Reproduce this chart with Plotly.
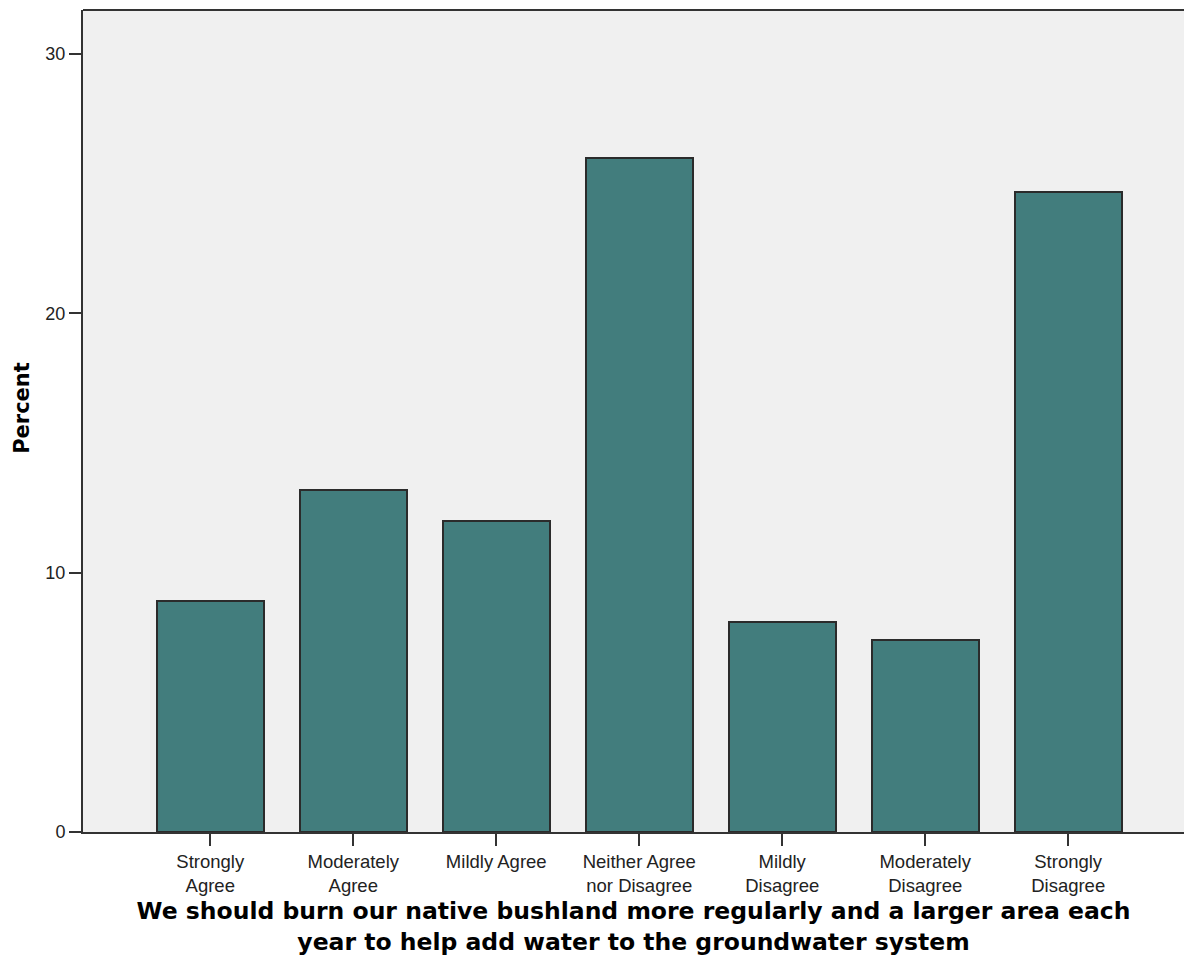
import plotly.graph_objects as go

categories = ["Strongly<br>Agree", "Moderately<br>Agree", "Mildly Agree", "Neither Agree<br>nor Disagree",
              "Mildly<br>Disagree", "Moderately<br>Disagree", "Strongly<br>Disagree"]
percent = [8.9, 13.2, 12.0, 26.0, 8.1, 7.4, 24.7]
y_ticks = [0, 10, 20, 30]

fig = go.Figure()
fig.add_trace(go.Bar(
    x=categories, y=percent, width=0.75,
    marker=dict(color="#427d7d", line=dict(color="#2b2b2b", width=2)),
))

fig.update_layout(
    width=1176, height=948,
    margin=dict(l=75, r=0, t=2, b=124),
    paper_bgcolor="white", plot_bgcolor="#f0f0f0",
    showlegend=False,
    font=dict(family="Liberation Sans, Arial", color="#111"),
    bargap=0,
)
fig.update_xaxes(
    type="category", range=[-0.89, 6.81],
    showline=True, linecolor="#333", linewidth=2,
    ticks="outside", ticklen=12, tickwidth=1.5, tickcolor="#333",
    showgrid=False, zeroline=False,
    tickfont=dict(size=18.5, family="Liberation Sans, Arial", color="#222"),
    title=dict(text="We should burn our native bushland more regularly and a larger area each<br>year to help add water to the groundwater system",
               font=dict(size=23.5, family="DejaVu Sans", color="black", weight="bold"), standoff=12),
)
fig.update_yaxes(
    range=[0, 31.7], tickvals=y_ticks,
    showline=True, linecolor="#333", linewidth=2,
    ticks="outside", ticklen=12, tickwidth=1.5, tickcolor="#333",
    showgrid=False, zeroline=False,
    tickfont=dict(size=18, family="Liberation Sans, Arial", color="#222"),
)
fig.add_annotation(text="Percent", xref="paper", yref="paper", x=-0.0554, y=0.516,
                   xanchor="center", yanchor="middle", textangle=-90, showarrow=False,
                   font=dict(size=21, family="DejaVu Sans", color="black", weight="bold"))
fig.add_shape(type="line", xref="paper", yref="paper", x0=0, x1=1, y0=1, y1=1,
              line=dict(color="#333", width=2))

fig.write_html("out.html")
